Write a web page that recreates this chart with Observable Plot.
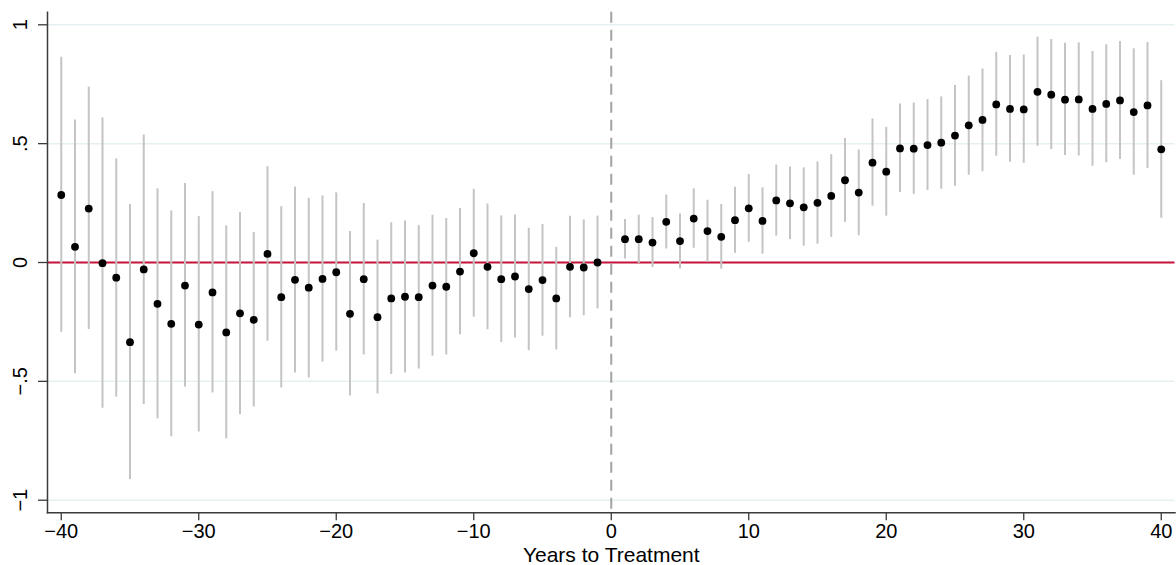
<!DOCTYPE html>
<html>
<head>
<meta charset="utf-8">
<script src="https://cdn.jsdelivr.net/npm/d3@7"></script>
<script src="https://cdn.jsdelivr.net/npm/@observablehq/plot@0.6"></script>
<style>
  html, body { margin: 0; padding: 0; background: #fff; }
  #chart svg { display: block; }
</style>
</head>
<body>
<div id="chart"></div>
<script>
// Event-study coefficients
const years = [
  -40,-39,-38,-37,-36,-35,-34,-33,-32,-31,-30,-29,-28,-27,-26,-25,-24,-23,-22,-21,
  -20,-19,-18,-17,-16,-15,-14,-13,-12,-11,-10,-9,-8,-7,-6,-5,-4,-3,-2,-1,
  1,2,3,4,5,6,7,8,9,10,11,12,13,14,15,16,17,18,19,20,
  21,22,23,24,25,26,27,28,29,30,31,32,33,34,35,36,37,38,39,40
];
const coef = [
  0.284,0.066,0.227,-0.003,-0.064,-0.335,-0.029,-0.174,-0.258,-0.097,-0.261,-0.126,-0.294,-0.214,-0.241,0.036,-0.146,-0.073,-0.106,-0.069,
  -0.041,-0.216,-0.070,-0.230,-0.151,-0.144,-0.146,-0.097,-0.102,-0.038,0.039,-0.018,-0.070,-0.059,-0.112,-0.074,-0.151,-0.018,-0.021,0.000,
  0.098,0.098,0.084,0.171,0.090,0.185,0.132,0.108,0.178,0.228,0.175,0.261,0.249,0.232,0.251,0.280,0.346,0.294,0.420,0.382,
  0.480,0.479,0.494,0.504,0.534,0.577,0.600,0.665,0.646,0.644,0.718,0.706,0.685,0.686,0.646,0.667,0.682,0.633,0.661,0.476
];
const upper = [
  0.863,0.600,0.738,0.608,0.436,0.244,0.536,0.310,0.217,0.332,0.193,0.298,0.154,0.210,0.126,0.403,0.235,0.318,0.270,0.280,
  0.293,0.130,0.248,0.094,0.167,0.175,0.155,0.199,0.185,0.227,0.308,0.246,0.196,0.200,0.144,0.160,0.064,0.195,0.179,0.195,
  0.181,0.199,0.189,0.284,0.204,0.310,0.262,0.244,0.317,0.370,0.314,0.410,0.402,0.398,0.423,0.454,0.522,0.473,0.604,0.569,
  0.667,0.671,0.685,0.697,0.745,0.784,0.814,0.884,0.871,0.873,0.948,0.938,0.922,0.924,0.888,0.916,0.930,0.899,0.925,0.765
];
const lower = [
  -0.293,-0.468,-0.282,-0.613,-0.566,-0.913,-0.597,-0.658,-0.733,-0.524,-0.713,-0.549,-0.742,-0.639,-0.608,-0.331,-0.528,-0.465,-0.486,-0.419,
  -0.373,-0.562,-0.389,-0.553,-0.471,-0.465,-0.448,-0.394,-0.389,-0.304,-0.230,-0.283,-0.337,-0.318,-0.371,-0.310,-0.368,-0.232,-0.224,-0.195,
  0.015,-0.004,-0.021,0.057,-0.027,0.060,0.001,-0.028,0.039,0.085,0.035,0.111,0.097,0.069,0.077,0.106,0.169,0.113,0.237,0.195,
  0.294,0.287,0.303,0.308,0.321,0.367,0.382,0.447,0.422,0.417,0.489,0.475,0.450,0.448,0.405,0.420,0.433,0.367,0.396,0.186
];
const xTicks = [-40, -30, -20, -10, 0, 10, 20, 30, 40];
const yTicks = [-1, -0.5, 0, 0.5, 1];
const yTickLabels = ["\u22121", "\u2212.5", "0", ".5", "1"];
const xTitle = ["Years to Treatment"];
const treatmentYear = [0];
const referenceLine = [0];

const rows = years.map((t, i) => ({t, b: coef[i], lo: lower[i], hi: upper[i]}));

const chart = Plot.plot({
  width: 1176,
  height: 565,
  marginLeft: 47,
  marginRight: 1.5,
  marginTop: 11.7,
  marginBottom: 52.7,
  style: {fontFamily: "'Liberation Sans', Arial, sans-serif", fontSize: "20px", background: "#fff", color: "#000"},
  x: {domain: [-41, 41]},
  y: {domain: [-1.053, 1.053]},
  marks: [
    Plot.gridY(yTicks, {stroke: "#e6eff1", strokeOpacity: 1, strokeWidth: 1.5}),
    Plot.ruleY(referenceLine, {stroke: "#c8143c", strokeWidth: 2}),
    Plot.ruleX(treatmentYear, {stroke: "#a3a3a3", strokeWidth: 2, strokeDasharray: "11,7"}),
    Plot.ruleX(rows, {x: "t", y1: "lo", y2: "hi", stroke: "#c4c4c4", strokeWidth: 2}),
    Plot.dot(rows, {x: "t", y: "b", r: 3.9, fill: "#000", stroke: "none"}),
    Plot.axisY(yTicks, {
      tickRotate: -90, tickSize: 9, tickPadding: 12,
      tickFormat: (d) => yTickLabels[yTicks.indexOf(d)],
      label: null, stroke: "#3a3a3a", strokeWidth: 1.3, fontSize: 20
    }),
    Plot.axisX(xTicks, {tickSize: 8, tickPadding: 3, label: null, stroke: "#3a3a3a", strokeWidth: 1.3, fontSize: 20}),
    Plot.frame({anchor: "left", stroke: "#3a3a3a", strokeWidth: 1.5}),
    Plot.frame({anchor: "bottom", stroke: "#3a3a3a", strokeWidth: 1.5}),
    Plot.text(xTitle, {frameAnchor: "bottom", dy: 42, lineAnchor: "middle", fontSize: 21, fill: "#000"})
  ]
});
document.getElementById("chart").append(chart);
</script>
</body>
</html>
